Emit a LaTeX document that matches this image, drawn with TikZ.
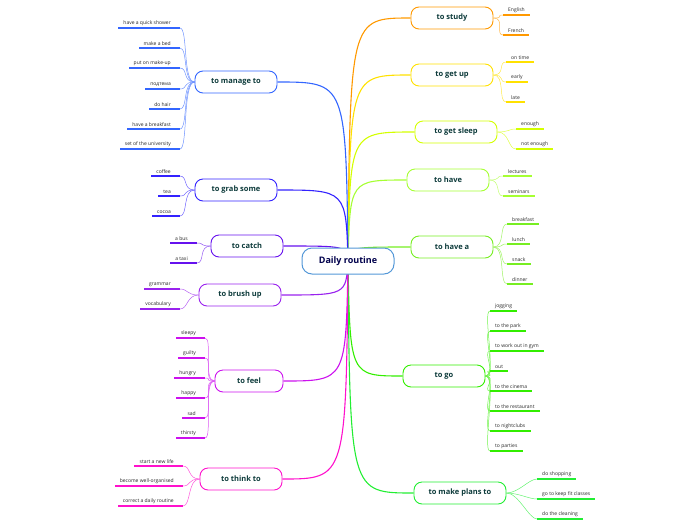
\documentclass[tikz,border=0pt]{standalone}
\usepackage{fontspec}
\setmainfont{Open Sans}
\usetikzlibrary{backgrounds}
\definecolor{cStudy}{HTML}{FF9900}
\definecolor{cGetup}{HTML}{FFE100}
\definecolor{cSleep}{HTML}{D4FF00}
\definecolor{cHave}{HTML}{A6FF33}
\definecolor{cHavea}{HTML}{77EE22}
\definecolor{cGo}{HTML}{33EE00}
\definecolor{cPlans}{HTML}{22EE33}
\definecolor{cManage}{HTML}{3366FF}
\definecolor{cGrab}{HTML}{3322FF}
\definecolor{cCatch}{HTML}{6611EE}
\definecolor{cBrush}{HTML}{9922EE}
\definecolor{cFeel}{HTML}{CC11EE}
\definecolor{cThink}{HTML}{FF11CC}
\definecolor{txt}{HTML}{0D3B3B}
\tikzset{
  br/.style={draw=#1, line width=0.9pt, rounded corners=8pt, fill=white, minimum width=82pt, minimum height=22pt, font=\bfseries\fontsize{7.5}{9}\selectfont, text=txt},
  lf/.style={inner sep=1pt, font=\fontsize{5}{6}\selectfont, text=black!85},
  ul/.style={draw=#1, line width=1.2pt},
  lk/.style={draw=#1!70, line width=0.5pt},
  mk/.style={draw=#1, line width=1.1pt},
}
% right leaf: name, x, y, text, color, parent
\newcommand\leafR[6]{%
  \node[lf, anchor=south west] (#1) at (#2+4,#3-1) {#4};
  \coordinate (#1s) at (#2,#3);
  \draw[ul=#5] (#1s) -- ([xshift=4pt]#1.south east |- #1s);
  \begin{scope}[on background layer]
  \draw[lk=#5] (#6.east) .. controls +(12,0) and +(-8,0) .. (#1s);
  \end{scope}}
% left leaf: name, x(right end), y, text, color, parent
\newcommand\leafL[6]{%
  \node[lf, anchor=south east] (#1) at (#2-8,#3-1) {#4};
  \coordinate (#1s) at (#2,#3);
  \draw[ul=#5] (#1s) -- ([xshift=-4pt]#1.south west |- #1s);
  \begin{scope}[on background layer]
  \draw[lk=#5] (#6.west) .. controls +(-12,0) and +(8,0) .. (#1s);
  \end{scope}}
\begin{document}
\begin{tikzpicture}[x=1pt,y=-1pt]
\useasboundingbox (0,0) rectangle (696,520);
\node[draw=cyan!60!blue!70, line width=1pt, rounded corners=10pt, fill=white, minimum width=92pt, minimum height=26pt, font=\bfseries\fontsize{9}{11}\selectfont, text=blue!30!black] (cen) at (348,261) {Daily routine};
\coordinate (cx) at (348,261);
\node[br=cStudy] (study) at (452,18) {to study};
\node[br=cGetup] (getup) at (452,75) {to get up};
\node[br=cSleep] (sleep) at (456,132) {to get sleep};
\node[br=cHave] (have) at (448,180) {to have};
\node[br=cHavea] (havea) at (452,247) {to have a};
\node[br=cGo] (go) at (444,376) {to go};
\node[br=cPlans, minimum width=92pt] (plans) at (460,493) {to make plans to};
\node[br=cManage] (manage) at (236,82) {to manage to};
\node[br=cGrab] (grab) at (236,190) {to grab some};
\node[br=cCatch, minimum width=72pt] (catch) at (247,246) {to catch};
\node[br=cBrush] (brush) at (240,295) {to brush up};
\node[br=cFeel, minimum width=68pt] (feel) at (249,381) {to feel};
\node[br=cThink] (think) at (241,479) {to think to};
\begin{scope}[on background layer]
\foreach \b/\c in {study/cStudy,getup/cGetup,sleep/cSleep,have/cHave,havea/cHavea,go/cGo,plans/cPlans}
  \draw[mk=\c] (cx) .. controls ([xshift=2pt]cx |- \b.west) .. (\b.west);
\foreach \b/\c in {manage/cManage,grab/cGrab,catch/cCatch,brush/cBrush,feel/cFeel,think/cThink}
  \draw[mk=\c] (cx) .. controls ([xshift=-2pt]cx |- \b.east) .. (\b.east);
\end{scope}
\leafR{s1}{503}{15}{English}{cStudy}{study}
\leafR{s2}{503}{35}{French}{cStudy}{study}
\leafR{u1}{506}{62}{on time}{cGetup}{getup}
\leafR{u2}{506}{82}{early}{cGetup}{getup}
\leafR{u3}{506}{102}{late}{cGetup}{getup}
\leafR{e1}{516}{129}{enough}{cSleep}{sleep}
\leafR{e2}{516}{149}{not enough}{cSleep}{sleep}
\leafR{h1}{503}{176}{lectures}{cHave}{have}
\leafR{h2}{503}{196}{seminars}{cHave}{have}
\leafR{a1}{507}{224}{breakfast}{cHavea}{havea}
\leafR{a2}{507}{244}{lunch}{cHavea}{havea}
\leafR{a3}{507}{264}{snack}{cHavea}{havea}
\leafR{a4}{507}{284}{dinner}{cHavea}{havea}
\leafR{g1}{490}{311}{jogging}{cGo}{go}
\leafR{g2}{490}{331}{to the park}{cGo}{go}
\leafR{g3}{490}{351}{to work out in gym}{cGo}{go}
\leafR{g4}{490}{371}{out}{cGo}{go}
\leafR{g5}{490}{391}{to the cinema}{cGo}{go}
\leafR{g6}{490}{411}{to the restaurant}{cGo}{go}
\leafR{g7}{490}{431}{to nightclubs}{cGo}{go}
\leafR{g8}{490}{451}{to parties}{cGo}{go}
\leafR{p1}{537}{479}{do shopping}{cPlans}{plans}
\leafR{p2}{537}{499}{go to keep fit classes}{cPlans}{plans}
\leafR{p3}{537}{519}{do the cleaning}{cPlans}{plans}
\leafL{m1}{180}{28}{have a quick shower}{cManage}{manage}
\leafL{m2}{180}{48}{make a bed}{cManage}{manage}
\leafL{m3}{180}{68}{put on make-up}{cManage}{manage}
\leafL{m4}{180}{89}{подтема}{cManage}{manage}
\leafL{m5}{180}{109}{do hair}{cManage}{manage}
\leafL{m6}{180}{129}{have a breakfast}{cManage}{manage}
\leafL{m7}{180}{149}{set of the university}{cManage}{manage}
\leafL{k1}{180}{176}{coffee}{cGrab}{grab}
\leafL{k2}{180}{196}{tea}{cGrab}{grab}
\leafL{k3}{180}{216}{cocoa}{cGrab}{grab}
\leafL{c1}{197}{243}{a bus}{cCatch}{catch}
\leafL{c2}{197}{263}{a taxi}{cCatch}{catch}
\leafL{b1}{180}{289}{grammar}{cBrush}{brush}
\leafL{b2}{180}{309}{vocabulary}{cBrush}{brush}
\leafL{f1}{205}{338}{sleepy}{cFeel}{feel}
\leafL{f2}{205}{358}{guilty}{cFeel}{feel}
\leafL{f3}{205}{378}{hungry}{cFeel}{feel}
\leafL{f4}{205}{398}{happy}{cFeel}{feel}
\leafL{f5}{205}{418}{sad}{cFeel}{feel}
\leafL{f6}{205}{438}{thirsty}{cFeel}{feel}
\leafL{t1}{183}{466}{start a new life}{cThink}{think}
\leafL{t2}{183}{486}{become well-organised}{cThink}{think}
\leafL{t3}{183}{506}{correct a daily routine}{cThink}{think}
\end{tikzpicture}
\end{document}
